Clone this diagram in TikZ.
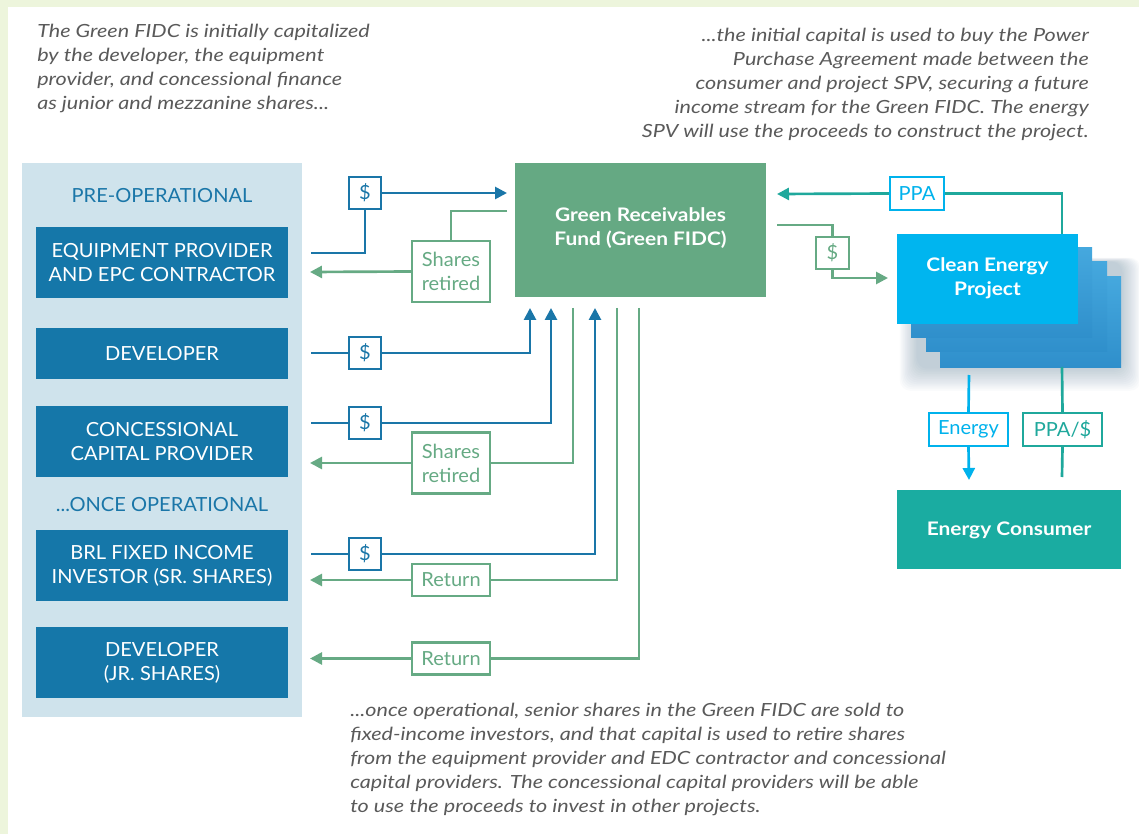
\documentclass[tikz,border=0pt]{standalone}
\usepackage{fontspec}
\setmainfont{Lato}
\newfontfamily\parafont[FakeStretch=1.19]{Lato}
\newfontfamily\headfont[FakeStretch=1.12]{Lato}
\newfontfamily\capsfont[FakeStretch=1.03]{Lato}
\usetikzlibrary{arrows.meta,calc}
\definecolor{outerbg}{HTML}{EDF5DC}
\definecolor{panel}{HTML}{CFE3EC}
\definecolor{boxblue}{HTML}{1577A9}
\definecolor{lblue}{HTML}{1A76A8}
\definecolor{lgreen}{HTML}{66AA84}
\definecolor{fidc}{HTML}{65A983}
\definecolor{cyan1}{HTML}{00B2EC}
\definecolor{teal1}{HTML}{1FA89C}
\definecolor{consumer}{HTML}{1AACA1}
\definecolor{projfront}{HTML}{00B5EF}
\definecolor{layer}{HTML}{45A8DE}
\definecolor{layerdark}{HTML}{2F8FCB}
\definecolor{graytext}{HTML}{5A5A5A}
\definecolor{shadowc}{HTML}{1C4F7A}
\begin{document}
\begin{tikzpicture}[x=0.75pt,y=-0.75pt,
  actor/.style={fill=boxblue, text=white, inner sep=0pt, minimum width=189pt, minimum height=53.25pt,
     align=center, font=\capsfont\fontsize{14.6pt}{18pt}\selectfont},
  tag/.style={draw, line width=1.6pt, fill=white, inner sep=0pt, align=center,
     font=\capsfont\fontsize{14.6pt}{18pt}\selectfont},
  bluetag/.style={tag, draw=lblue, text=lblue, minimum width=24pt, minimum height=24pt},
  greentag/.style={tag, draw=lgreen, text=lgreen, minimum width=58.5pt},
  flow/.style={line width=2pt, line cap=butt},
  tip/.style={-{Triangle[length=9pt,width=9pt]}},
  para/.style={inner sep=0pt, text=graytext, font=\parafont\fontsize{13.6pt}{18pt}\selectfont\itshape},
  head/.style={text=white, inner sep=0pt, align=center, font=\headfont\fontsize{14pt}{18pt}\selectfont\bfseries}
]
% background
\fill[outerbg] (0,0) rectangle (1139,834);
\fill[white] (8,7) rectangle (1139,834);
\useasboundingbox (0,0) rectangle (1139,834);

% paragraphs
\node[para, anchor=north west, align=left] (t1) at (37,24) {The Green FIDC is initially capitalized\\by the developer, the equipment\\provider, and concessional finance\\as junior and mezzanine shares...};
\node[para, anchor=north east, align=right] (t2) at (1089,28) {...the initial capital is used to buy the Power\\Purchase Agreement made between the\\consumer and project SPV, securing a future\\income stream for the Green FIDC. The energy\\SPV will use the proceeds to construct the project.};
\node[para, anchor=north west, align=left] (t3) at (350,703) {...once operational, senior shares in the Green FIDC are sold to\\fixed-income investors, and that capital is used to retire shares\\from the equipment provider and EDC contractor and concessional\\capital providers. The concessional capital providers will be able\\to use the proceeds to invest in other projects.};

% left panel
\fill[panel] (22,163) rectangle (302,717);
\node[text=lblue, inner sep=0pt, font=\capsfont\fontsize{14.6pt}{18pt}\selectfont] (pre) at (162,196) {PRE-OPERATIONAL};
\node[text=lblue, inner sep=0pt, font=\capsfont\fontsize{14.6pt}{18pt}\selectfont] (once) at (162,505) {...ONCE OPERATIONAL};
\node[actor] (b1) at (162,262.5) {EQUIPMENT PROVIDER\\AND EPC CONTRACTOR};
\node[actor, minimum height=38.25pt] (b2) at (162,353.5) {DEVELOPER};
\node[actor] (b3) at (162,441.5) {CONCESSIONAL\\CAPITAL PROVIDER};
\node[actor] (b4) at (162,565.5) {BRL FIXED INCOME\\INVESTOR (SR. SHARES)};
\node[actor] (b5) at (162,662.5) {DEVELOPER\\(JR. SHARES)};

% fund
\node[fill=fidc, minimum width=188.25pt, minimum height=100.5pt, inner sep=0pt] (fund) at (640.5,230) {};
\node[head] (fundt) at (640.5,228) {Green Receivables\\Fund (Green FIDC)};

% clean energy stack with soft shadow
\foreach \s in {1,...,14}
  \fill[shadowc, opacity=0.018, rounded corners=8pt] (918-\s*1.3,262-\s*0.3) rectangle (1121+\s*1.4,367+\s*1.7);
\fill[top color=layer, bottom color=layerdark] (940,277) rectangle (1121,367);
\fill[top color=layer, bottom color=layerdark] (926,262) rectangle (1107,352);
\fill[top color=layer, bottom color=layerdark] (911,248) rectangle (1092,338);
\node[fill=projfront, minimum width=135.75pt, minimum height=67.5pt, inner sep=0pt] (proj) at (987.5,279) {};
\node[head] (projt) at (987.5,278) {Clean Energy\\Project};

% consumer
\node[fill=consumer, minimum width=168pt, minimum height=59.25pt, inner sep=0pt] (cons) at (1009,529.5) {};
\node[head] (const) at (1009,530) {Energy Consumer};

% tags
\node[bluetag] (d1) at (365,193) {\$};
\node[bluetag] (d2) at (365,353) {\$};
\node[bluetag] (d3) at (365,423) {\$};
\node[bluetag] (d4) at (365,554) {\$};
\node[greentag, minimum height=45.75pt] (sr1) at (451,271.5) {Shares\\retired};
\node[greentag, minimum height=45.75pt] (sr2) at (451,463) {Shares\\retired};
\node[greentag, minimum height=24pt] (r1) at (451,580) {Return};
\node[greentag, minimum height=24pt] (r2) at (451,658.5) {Return};
\node[tag, draw=cyan1, text=cyan1, minimum width=40.5pt, minimum height=24.75pt] (ppa) at (917,193.5) {PPA};
\node[tag, draw=lgreen, text=lgreen, minimum width=24.75pt, minimum height=24pt] (dg) at (832.5,253) {\$};
\node[tag, draw=cyan1, text=cyan1, minimum width=59.25pt, minimum height=24.75pt] (en) at (968.5,429.5) {Energy};
\node[tag, draw=teal1, text=teal1, minimum width=59.25pt, minimum height=24.75pt] (ppad) at (1062.5,429.5) {PPA/\$};

% coordinates
\coordinate (s1) at (311,253);
\coordinate (e1) at (507,193);
\coordinate (g1) at (507,211);
\coordinate (a1) at (310,272);
\coordinate (s2) at (311,353);
\coordinate (u1) at (530,308);
\coordinate (s3) at (311,423);
\coordinate (u2) at (551,308);
\coordinate (u3) at (573,308);
\coordinate (a3) at (310,463);
\coordinate (s4) at (311,554);
\coordinate (u4) at (595,308);
\coordinate (u5) at (617,308);
\coordinate (a4) at (310,580);
\coordinate (u6) at (639,308);
\coordinate (a5) at (310,658.5);
\coordinate (pp1) at (1062,234);
\coordinate (pp2) at (777,194);
\coordinate (gd1) at (777,225);
\coordinate (gd2) at (888,278);
\coordinate (en1) at (969,375);
\coordinate (en2) at (969,480);
\coordinate (pd1) at (1062,367);
\coordinate (pd2) at (1062,477);

% blue flows
\draw[flow, lblue] (s1) -| (d1.south);
\draw[flow, lblue, tip] (d1.east) -- (e1);
\draw[flow, lblue] (s2) -- (d2.west);
\draw[flow, lblue, tip] (d2.east) -| (u1);
\draw[flow, lblue] (s3) -- (d3.west);
\draw[flow, lblue, tip] (d3.east) -| (u2);
\draw[flow, lblue] (s4) -- (d4.west);
\draw[flow, lblue, tip] (d4.east) -| (u4);

% green flows
\draw[flow, lgreen] (g1) -| (sr1.north);
\draw[flow, lgreen, tip] (sr1.west) -- (a1);
\draw[flow, lgreen] (u3) |- (sr2.east);
\draw[flow, lgreen, tip] (sr2.west) -- (a3);
\draw[flow, lgreen] (u5) |- (r1.east);
\draw[flow, lgreen, tip] (r1.west) -- (a4);
\draw[flow, lgreen] (u6) |- (r2.east);
\draw[flow, lgreen, tip] (r2.west) -- (a5);

% right side
\draw[flow, teal1] (pp1) |- (ppa.east);
\draw[flow, teal1, tip] (ppa.west) -- (pp2);
\draw[flow, lgreen] (gd1) -| (dg.north);
\draw[flow, lgreen, tip] (dg.south) |- (gd2);
\draw[flow, cyan1] (en1) -- (en.north);
\draw[flow, cyan1, tip] (en.south) -- (en2);
\draw[flow, teal1] (pd1) -- (ppad.north);
\draw[flow, teal1] (ppad.south) -- (pd2);
\end{tikzpicture}
\end{document}
